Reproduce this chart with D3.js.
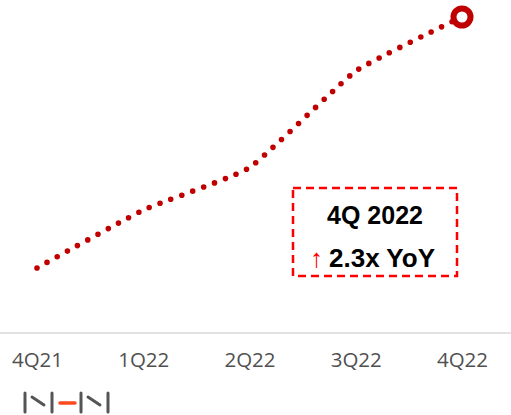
<!DOCTYPE html>
<html><head><meta charset="utf-8">
<script src="https://cdn.jsdelivr.net/npm/d3@7"></script>
<style>html,body{margin:0;padding:0;background:#fff;}svg{display:block;}</style>
</head><body>
<svg id="c" width="511" height="415"></svg>
<script>
const categories = ["4Q21", "1Q22", "2Q22", "3Q22", "4Q22"];
const values = [1.0, 1.30, 1.52, 2.02, 2.3];
const calloutTitle = "4Q 2022";
const calloutArrow = "↑";
const calloutText = "2.3x YoY";

const svg = d3.select("#c");
const x = d3.scalePoint().domain(categories).range([37, 462]);
const y = d3.scaleLinear().domain([0, 2.3]).range([461, 17]);

// axis baseline
svg.append("line").attr("x1", 0).attr("x2", 511).attr("y1", 333).attr("y2", 333)
  .attr("stroke", "#d9d9d9").attr("stroke-width", 1.5);

const axis = d3.axisBottom(x).tickSize(0).tickPadding(0);
const gA = svg.append("g").attr("transform", "translate(0,352)").call(axis);
gA.select(".domain").remove();
gA.selectAll("text").attr("font-family", "'Open Sans', sans-serif").attr("font-size", 20.5)
  .attr("fill", "#505050").attr("dy", "0.71em");

const line = d3.line().x((d, i) => x(categories[i])).y(d => y(d)).curve(d3.curveCardinal.tension(0.6));
svg.append("path").datum(values).attr("d", line).attr("fill", "none")
  .attr("stroke", "#c00000").attr("stroke-width", 5.6).attr("stroke-linecap", "round")
  .attr("stroke-dasharray", "0 11.6");

svg.append("circle").attr("cx", x(categories[4])).attr("cy", y(values[4])).attr("r", 8.5)
  .attr("fill", "#fff").attr("stroke", "#c00000").attr("stroke-width", 6);

// callout
svg.append("rect").attr("x", 293).attr("y", 188).attr("width", 164).attr("height", 88)
  .attr("fill", "none").attr("stroke", "#ff0000").attr("stroke-width", 2.5).attr("stroke-dasharray", "8 5");
svg.append("text").attr("x", 375).attr("y", 224).attr("text-anchor", "middle")
  .attr("font-family", "'Liberation Sans', Arial, sans-serif").attr("font-weight", "bold").attr("font-size", 25)
  .attr("fill", "#000").text(calloutTitle);
const t2 = svg.append("text").attr("x", 310).attr("y", 267)
  .attr("font-family", "'Liberation Sans', Arial, sans-serif").attr("font-size", 26).attr("fill", "#000");
t2.append("tspan").attr("fill", "#ff0000").attr("font-weight", "normal").text(calloutArrow);
t2.append("tspan").attr("font-weight", "bold").attr("dx", 6).text(calloutText);

// logo
const logo = svg.append("g").attr("stroke-linecap", "round");
[[25, 393, 25, 412], [52, 393, 52, 412], [81, 393, 81, 412], [108, 393, 108, 412]].forEach(d =>
  logo.append("line").attr("x1", d[0]).attr("y1", d[1]).attr("x2", d[2]).attr("y2", d[3]).attr("stroke", "#555").attr("stroke-width", 3));
[[32, 397, 44, 405], [88, 397, 100, 405]].forEach(d =>
  logo.append("line").attr("x1", d[0]).attr("y1", d[1]).attr("x2", d[2]).attr("y2", d[3]).attr("stroke", "#555").attr("stroke-width", 3));
logo.append("line").attr("x1", 60).attr("y1", 403).attr("x2", 75).attr("y2", 403).attr("stroke", "#ff4a1c").attr("stroke-width", 3.5);
</script>
</body></html>
